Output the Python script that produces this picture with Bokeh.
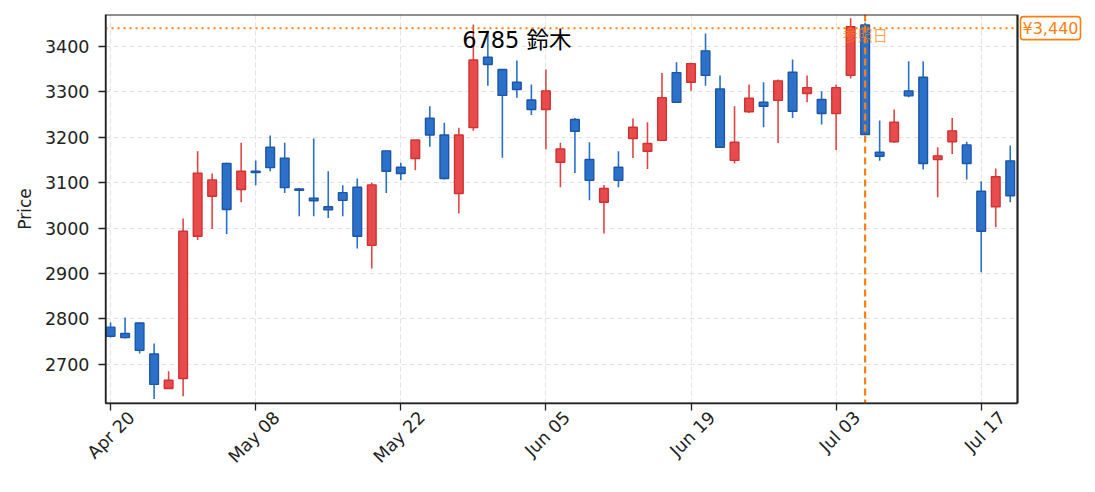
from datetime import date
import numpy as np
from bokeh.plotting import figure
from bokeh.models import (ColumnDataSource, Range1d, FixedTicker, Span, Label,
                          BoxAnnotation)
from bokeh.core.properties import value
from bokeh.embed import file_html
from bokeh.resources import INLINE

# ---- data ----
dates = [
    "2026-04-20", "2026-04-21", "2026-04-22", "2026-04-23", "2026-04-24",
    "2026-04-27", "2026-04-28", "2026-04-30", "2026-05-01", "2026-05-07",
    "2026-05-08", "2026-05-11", "2026-05-12", "2026-05-13", "2026-05-14",
    "2026-05-15", "2026-05-18", "2026-05-19", "2026-05-20", "2026-05-21",
    "2026-05-22", "2026-05-25", "2026-05-26", "2026-05-27", "2026-05-28",
    "2026-05-29", "2026-06-01", "2026-06-02", "2026-06-03", "2026-06-04",
    "2026-06-05", "2026-06-08", "2026-06-09", "2026-06-10", "2026-06-11",
    "2026-06-12", "2026-06-15", "2026-06-16", "2026-06-17", "2026-06-18",
    "2026-06-19", "2026-06-22", "2026-06-23", "2026-06-24", "2026-06-25",
    "2026-06-26", "2026-06-29", "2026-06-30", "2026-07-01", "2026-07-02",
    "2026-07-03", "2026-07-06", "2026-07-07", "2026-07-08", "2026-07-09",
    "2026-07-10", "2026-07-13", "2026-07-14", "2026-07-15", "2026-07-16",
    "2026-07-17", "2026-07-21", "2026-07-22",
]
opens = [2782, 2768, 2791, 2723, 2647, 2669, 2982, 3070, 3142, 3085,
         3125, 3178, 3154, 3086, 3066, 3047, 3078, 3090, 2962, 3170,
         3134, 3153, 3242, 3205, 3076, 3221, 3376, 3349, 3321, 3282,
         3261, 3145, 3239, 3151, 3057, 3134, 3197, 3169, 3193, 3342,
         3321, 3390, 3306, 3149, 3256, 3277, 3281, 3343, 3296, 3283,
         3252, 3336, 3447, 3167, 3190, 3302, 3332, 3151, 3190, 3183,
         3081, 3047, 3148]
highs = [2792, 2803, 2792, 2746, 2685, 3021, 3169, 3120, 3144, 3188,
         3149, 3204, 3188, 3088, 3197, 3125, 3094, 3109, 3100, 3170,
         3144, 3194, 3268, 3232, 3221, 3448, 3435, 3349, 3369, 3316,
         3349, 3188, 3242, 3189, 3095, 3169, 3241, 3233, 3341, 3365,
         3364, 3428, 3336, 3268, 3316, 3321, 3327, 3371, 3336, 3301,
         3316, 3462, 3452, 3237, 3261, 3367, 3367, 3178, 3242, 3190,
         3103, 3131, 3182]
lows = [2759, 2757, 2724, 2624, 2647, 2630, 2974, 2998, 2987, 3057,
        3094, 3125, 3077, 3026, 3026, 3022, 3026, 2955, 2911, 3077,
        3105, 3127, 3179, 3107, 3032, 3214, 3313, 3155, 3287, 3249,
        3173, 3090, 3121, 3061, 2988, 3090, 3154, 3130, 3193, 3277,
        3302, 3313, 3178, 3142, 3253, 3222, 3187, 3242, 3277, 3228,
        3172, 3329, 3206, 3148, 3187, 3288, 3129, 3068, 3163, 3107,
        2903, 3002, 3057]
closes = [2762, 2759, 2731, 2656, 2665, 2993, 3121, 3106, 3041, 3125,
          3122, 3133, 3089, 3083, 3060, 3040, 3061, 2982, 3095, 3125,
          3120, 3194, 3205, 3109, 3205, 3370, 3360, 3292, 3305, 3261,
          3302, 3174, 3213, 3105, 3087, 3105, 3222, 3186, 3287, 3277,
          3362, 3336, 3178, 3189, 3286, 3268, 3324, 3257, 3309, 3252,
          3309, 3443, 3206, 3158, 3233, 3291, 3142, 3159, 3214, 3142,
          2993, 3113, 3071]
title_text = "6785 鈴木"
ref_index = 52
ref_label = "参照日"
ref_price = 3440
tick_step = 10
y_ticks = [2700, 2800, 2900, 3000, 3100, 3200, 3300, 3400]

# ---- derived ----
n = len(dates)
idx = list(range(n))
up = [c >= o for o, c in zip(opens, closes)]
RED_F, RED_E, RED_W = "#e84b4b", "#cf3333", "#e04646"
BLUE_F, BLUE_E, BLUE_W = "#2b70c9", "#1d56a6", "#2a70c8"
ORANGE = "#ff7f0e"
AXC = "#222222"
src = ColumnDataSource(dict(
    x=idx,
    top=[max(o, c) for o, c in zip(opens, closes)],
    bottom=[min(o, c) for o, c in zip(opens, closes)],
    high=highs, low=lows,
    fill=[RED_F if u else BLUE_F for u in up],
    edge=[RED_E if u else BLUE_E for u in up],
    wick=[RED_W if u else BLUE_W for u in up],
))

TF = "DejaVu Sans, Noto Sans CJK JP"

# data frame spans x in [x0, x1]; a blank strip on the right holds the price tag
x0, x1 = -0.35, n - 0.5
main_w = 912
extra_w = 72
ppu = main_w / (x1 - x0)
y0, y1 = 2614, 3470

p = figure(frame_width=main_w + extra_w, frame_height=389,
           min_border_left=105, min_border_right=2,
           min_border_top=14, min_border_bottom=78,
           x_range=Range1d(x0, x1 + extra_w / ppu), y_range=Range1d(y0, y1),
           output_backend="svg", toolbar_location=None)
p.outline_line_color = None

p.segment(x0="x", y0="low", x1="x", y1="high", source=src,
          line_color="wick", line_width=1.6)
p.vbar(x="x", width=0.6, top="top", bottom="bottom", source=src,
       fill_color="fill", line_color="edge", line_width=1.4)

# reference lines
p.add_layout(Span(location=ref_price, dimension="width", line_color=ORANGE,
                  line_dash="2 4", line_width=2))
p.add_layout(Span(location=ref_index, dimension="height", line_color=ORANGE,
                  line_dash="7 4", line_width=2.2))

p.text(x=[ref_index], y=[3427], text=[ref_label], text_align="center",
       text_baseline="middle", text_color=ORANGE, text_alpha=0.7,
       text_font=value("Noto Sans CJK JP"), text_font_size="15px")

p.text(x=[28.0], y=[3413], text=[title_text], text_align="center",
       text_baseline="middle", text_color="black",
       text_font=value(TF), text_font_size="22.5px")

# blank strip to the right of the data frame, then the frame outline
p.add_layout(BoxAnnotation(left=x1, fill_color="white", fill_alpha=1,
                           line_alpha=0))
p.add_layout(BoxAnnotation(right=x1, fill_alpha=0, line_color=AXC,
                           line_alpha=1, line_width=2.2))

p.add_layout(Label(x=x1, y=ref_price, text=f"¥{ref_price:,}",
                   x_offset=3, text_align="left", text_baseline="middle",
                   text_color=ORANGE, text_font=TF, text_font_size="16px",
                   background_fill_color="white",
                   border_line_color=ORANGE, border_line_width=1.6,
                   border_radius=3, padding=2))

# x axis: tick marks (minor ticks) at the dates, labels shifted so that the
# end-anchored rotated text is centred under its tick
tick_pos = list(range(0, n, tick_step))
shift = 1.45
lab_pos = [round(t + shift, 3) for t in tick_pos]
xa = p.xaxis[0]
xa.ticker = FixedTicker(ticks=lab_pos, minor_ticks=tick_pos)
xa.bounds = (x0, x1)
xa.major_label_overrides = {
    lp: date.fromisoformat(dates[t]).strftime("%b %d")
    for lp, t in zip(lab_pos, tick_pos)}
xa.major_label_orientation = np.pi / 4
xa.major_tick_line_color = None
xa.major_tick_in = 0
xa.major_tick_out = 7
xa.minor_tick_in = 0
xa.minor_tick_out = 7
xa.minor_tick_line_color = AXC
xa.minor_tick_line_width = 1.3
xa.axis_line_color = AXC
xa.axis_line_width = 1.4
xa.major_label_standoff = 4
xa.major_label_text_font = TF
xa.major_label_text_font_size = "17.5px"
xa.major_label_text_color = AXC

ya = p.yaxis[0]
ya.ticker = FixedTicker(ticks=y_ticks)
ya.axis_label = "Price"
ya.minor_tick_line_color = None
ya.major_tick_in = 0
ya.major_tick_out = 7
ya.major_tick_line_color = AXC
ya.major_tick_line_width = 1.3
ya.axis_line_color = AXC
ya.axis_line_width = 1.4
ya.major_label_text_font = TF
ya.major_label_text_color = AXC
ya.major_label_text_font_size = "17.5px"
ya.major_label_standoff = 9
ya.axis_label_text_font = TF
ya.axis_label_text_font_size = "17px"
ya.axis_label_text_font_style = "normal"
ya.axis_label_text_color = AXC
ya.axis_label_standoff = 7

for g in (p.xgrid, p.ygrid):
    g.grid_line_color = "#e4e4e4"
    g.grid_line_dash = "5 3"
    g.grid_line_width = 1.1
p.xgrid.ticker = FixedTicker(ticks=tick_pos)
p.ygrid.ticker = FixedTicker(ticks=y_ticks)
p.background_fill_color = "white"
p.border_fill_color = "white"

open("out.html", "w").write(file_html(p, INLINE))
